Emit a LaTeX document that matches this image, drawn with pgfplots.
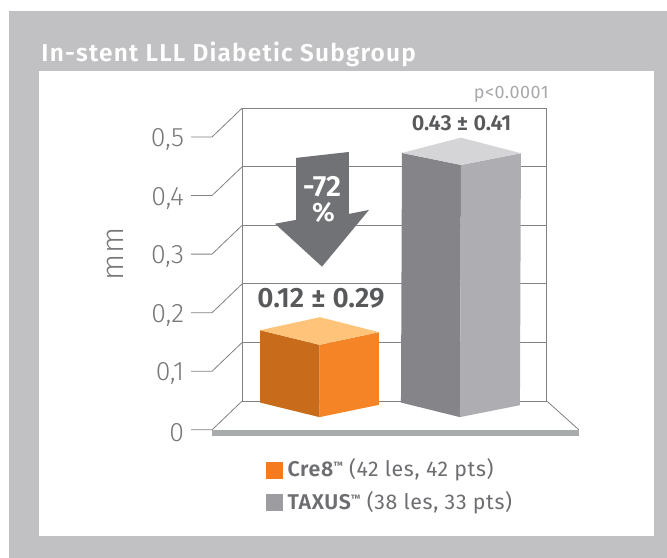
\documentclass[border=0pt]{standalone}
\usepackage{pgfplots}
\pgfplotsset{compat=1.18}
\usepackage{fontspec}
\setmainfont{Fira Sans}
\newfontfamily\lightf{Fira Sans Light}
\newfontfamily\bookf[LetterSpace=3,BoldFont={Fira Sans SemiBold}]{Fira Sans}
\newfontfamily\boldsp[LetterSpace=5]{Fira Sans SemiBold}
\newfontfamily\boldn{Fira Sans SemiBold}
\definecolor{panel}{HTML}{C1C1C3}
\definecolor{gridc}{HTML}{808285}
\definecolor{floorc}{HTML}{A7ABAB}
\definecolor{oF}{HTML}{F58426}
\definecolor{oL}{HTML}{C86C1B}
\definecolor{oT}{HTML}{FFC47A}
\definecolor{gL}{HTML}{858488}
\definecolor{gR}{HTML}{AEADB2}
\definecolor{gT}{HTML}{D5D5D8}
\definecolor{arrowc}{HTML}{717276}
\definecolor{darkt}{HTML}{58595B}
\definecolor{midt}{HTML}{6D6E71}
\definecolor{tickt}{HTML}{77787B}
\definecolor{pt}{HTML}{A7A9AC}
\definecolor{legO}{HTML}{F47B20}
\definecolor{legG}{HTML}{9D9CA1}
\begin{document}
\begin{tikzpicture}
\begin{axis}[
  scale only axis, width=500.25pt, height=418.5pt,
  xmin=0, xmax=667, ymin=-0.21843, ymax=0.73379,
  clip=false, axis on top=true,
  axis line style={draw=none},
  xtick=\empty,
  ytick={0,0.1,0.2,0.3,0.4,0.5},
  yticklabels={0,{0,1},{0,2},{0,3},{0,4},{0,5}},
  major tick length=0pt,
  yticklabel style={font=\lightf\fontsize{20}{20}\selectfont, text=tickt, xshift=141.5pt, yshift=-2pt, anchor=east},
  /pgf/number format/assume math mode=true,
  legend style={at={(0.3988,0.1773)}, anchor=north west, draw=none, fill=none,
    font=\bookf\fontsize{16}{16}\selectfont, text=midt, row sep=9.6pt, inner sep=0pt, outer sep=0pt,
    nodes={inner sep=0pt, outer sep=0pt, anchor=base west}},
  legend cell align=left,
  legend image code/.code={\fill[#1] (0pt,-1.2pt) rectangle (12.75pt,11.55pt);},
]
% panel and white field
\addplot[forget plot, fill=panel, draw=none] coordinates {(9,0.7150)(667,0.7150)(667,-0.21843)(9,-0.21843)} -- cycle;
\addplot[forget plot, fill=white, draw=none] coordinates {(39,0.6126)(654,0.6126)(654,-0.1809)(39,-0.1809)} -- cycle;
% floor
\addplot[forget plot, fill=floorc, draw=none] coordinates {(212,0)(579,0)(579,-0.0102)(212,-0.0102)} -- cycle;
% back wall
\addplot[forget plot, gridc, line width=0.75pt] coordinates {(242,0.549)(547,0.549)};
\addplot[forget plot, gridc, line width=0.75pt] coordinates {(242,0.449)(547,0.449)};
\addplot[forget plot, gridc, line width=0.75pt] coordinates {(242,0.349)(547,0.349)};
\addplot[forget plot, gridc, line width=0.75pt] coordinates {(242,0.249)(547,0.249)};
\addplot[forget plot, gridc, line width=0.75pt] coordinates {(242,0.149)(547,0.149)};
\addplot[forget plot, gridc, line width=0.75pt] coordinates {(242,0.049)(547,0.049)};
\addplot[forget plot, gridc, line width=0.75pt] coordinates {(242,0.049)(242,0.549)};
\addplot[forget plot, gridc, line width=0.75pt] coordinates {(547,0.049)(547,0.549)};
\addplot[forget plot, gridc, line width=0.6pt] coordinates {(547,0.049)(579,0)};
% ticks
\addplot[forget plot, gridc, line width=0.6pt] coordinates {(191,0)(212,0)(242,0.049)};
\addplot[forget plot, gridc, line width=0.6pt] coordinates {(191,0.1)(212,0.1)(242,0.149)};
\addplot[forget plot, gridc, line width=0.6pt] coordinates {(191,0.2)(212,0.2)(242,0.249)};
\addplot[forget plot, gridc, line width=0.6pt] coordinates {(191,0.3)(212,0.3)(242,0.349)};
\addplot[forget plot, gridc, line width=0.6pt] coordinates {(191,0.4)(212,0.4)(242,0.449)};
\addplot[forget plot, gridc, line width=0.6pt] coordinates {(191,0.5)(212,0.5)(242,0.549)};
% Cre8 bar
\addplot[forget plot, fill=oL, draw=none] coordinates {(260,0.0466)(319.5,0.0217)(319.5,0.1451)(260,0.1701)} -- cycle;
\addplot[forget plot, fill=oF, draw=none] coordinates {(319.5,0.0217)(379,0.0427)(379,0.1667)(319.5,0.1451)} -- cycle;
\addplot[forget plot, fill=oT, draw=none] coordinates {(260,0.1701)(319.5,0.1451)(379,0.1667)(320,0.1923)} -- cycle;
% TAXUS bar
\addplot[forget plot, fill=gL, draw=none] coordinates {(401,0.0466)(460,0.0217)(461,0.4522)(402,0.4727)} -- cycle;
\addplot[forget plot, fill=gR, draw=none] coordinates {(460,0.0217)(520,0.0421)(521,0.4722)(461,0.4522)} -- cycle;
\addplot[forget plot, fill=gT, draw=none] coordinates {(402,0.4727)(461,0.4522)(521,0.4722)(461,0.4988)} -- cycle;
% arrow
\addplot[forget plot, fill=arrowc, draw=none] coordinates {(296,0.4642)(349,0.4744)(349,0.3686)(369,0.3754)(322,0.2786)(275,0.3519)(296,0.3584)} -- cycle;
% text
\node[anchor=base west, text=white, inner sep=0pt] at (axis cs:41,0.629) {\boldsp\fontsize{18.3}{18.3}\selectfont In-stent LLL Diabetic Subgroup};
\node[anchor=base east, text=pt, inner sep=0pt] at (axis cs:549,0.566) {\bookf\fontsize{13.5}{13.5}\selectfont p<0.0001};
\node[anchor=base, text=darkt, inner sep=0pt] at (axis cs:461.5,0.511) {\boldn\fontsize{16.3}{16.3}\selectfont 0.43 ± 0.41};
\node[anchor=base, text=darkt, inner sep=0pt] at (axis cs:321,0.2096) {\boldn\fontsize{21}{21}\selectfont 0.12 ± 0.29};
\node[anchor=base, text=white, inner sep=0pt] at (axis cs:322,0.3976) {\boldn\fontsize{22}{22}\selectfont -72};
\node[anchor=base, text=white, inner sep=0pt] at (axis cs:323.5,0.3550) {\boldn\fontsize{20}{20}\selectfont \%};
\node[rotate=90, anchor=center, text=tickt, inner sep=0pt] at (axis cs:115,0.3003) {\lightf\fontsize{23}{23}\selectfont mm};
\addlegendimage{fill=legO, draw=none}
\addlegendentry{\hspace{3.5pt}\textbf{Cre8\raisebox{0.35em}{\scalebox{0.5}{™}}} (42 les, 42 pts)}
\addlegendimage{fill=legG, draw=none}
\addlegendentry{\hspace{3.5pt}\textbf{TAXUS\raisebox{0.35em}{\scalebox{0.5}{™}}} (38 les, 33 pts)}
\end{axis}
\end{tikzpicture}
\end{document}
